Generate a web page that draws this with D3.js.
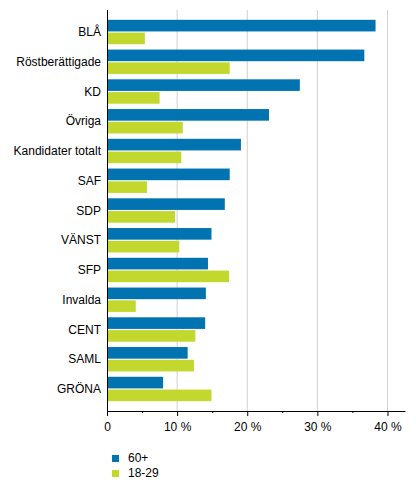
<!DOCTYPE html>
<html>
<head>
<meta charset="utf-8">
<style>
  body { margin: 0; background: #fff; }
  text { font-family: "Liberation Sans", Arial, sans-serif; fill: #000; }
</style>
</head>
<body>
<script src="https://cdn.jsdelivr.net/npm/d3@7"></script>
<script>
// data (share in %)
var categories = ["BLÅ", "Röstberättigade", "KD", "Övriga", "Kandidater totalt", "SAF",
                  "SDP", "VÄNST", "SFP", "Invalda", "CENT", "SAML", "GRÖNA"];
var seriesNames = ["60+", "18-29"];
var values60 = [38.3, 36.7, 27.5, 23.1, 19.1, 17.5, 16.8, 14.9, 14.4, 14.1, 14.0, 11.5, 8.0];
var values1829 = [5.4, 17.5, 7.5, 10.8, 10.6, 5.7, 9.7, 10.3, 17.4, 4.1, 12.6, 12.4, 14.9];
var tickValues = [0, 10, 20, 30, 40];
var colors = ["#0073b0", "#c3d82e"];

var width = 416, height = 491;
var margin = {left: 107, right: 405, top: 10, bottom: 411};

var svg = d3.select("body").append("svg")
    .attr("width", width)
    .attr("height", height);

var x = d3.scaleLinear().domain([0, 42.5]).range([margin.left, margin.right]);

var y = d3.scaleBand()
    .domain(categories)
    .range([margin.top, margin.bottom])
    .paddingInner(0.18)
    .paddingOuter(0.33);

var sub = d3.scaleBand()
    .domain(seriesNames)
    .range([0, y.bandwidth()])
    .paddingInner(0.09);

// grid lines
svg.append("g")
  .selectAll("line")
  .data(tickValues.slice(1))
  .enter().append("line")
    .attr("x1", d => x(d)).attr("x2", d => x(d))
    .attr("y1", margin.top).attr("y2", margin.bottom)
    .attr("stroke", "#d0d0d0")
    .attr("stroke-width", 1);

// bars
var rows = categories.map((c, i) => ({cat: c, vals: [values60[i], values1829[i]]}));
var groups = svg.append("g").selectAll("g")
  .data(rows)
  .enter().append("g")
    .attr("transform", d => `translate(0,${y(d.cat)})`);

groups.selectAll("rect")
  .data(d => d.vals.map((v, j) => ({name: seriesNames[j], v: v, j: j})))
  .enter().append("rect")
    .attr("x", x(0))
    .attr("y", d => sub(d.name))
    .attr("width", d => x(d.v) - x(0))
    .attr("height", sub.bandwidth())
    .attr("fill", d => colors[d.j]);

// category labels
svg.append("g")
  .selectAll("text")
  .data(categories)
  .enter().append("text")
    .attr("x", margin.left - 6)
    .attr("y", d => y(d) + y.bandwidth() / 2)
    .attr("dy", "0.35em")
    .attr("text-anchor", "end")
    .style("font-size", "12px")
    .text(d => d);

// y axis line
svg.append("line")
    .attr("x1", margin.left + 0.5).attr("x2", margin.left + 0.5)
    .attr("y1", margin.top).attr("y2", margin.bottom)
    .attr("stroke", "#000");

// x axis: minor ticks every 5, labels every 10
var xAxis = d3.axisBottom(x)
    .tickValues(d3.range(0, 41, 5))
    .tickSize(5)
    .tickSizeOuter(0)
    .tickFormat(d => d % 10 ? "" : (d === 0 ? "0" : d + " %"));

var gx = svg.append("g")
    .attr("transform", `translate(0,${margin.bottom})`)
    .call(xAxis);
gx.select(".domain").attr("stroke", "#000");
gx.selectAll(".tick line").attr("y2", d => d % 10 ? 2 : 5);
gx.selectAll(".tick text")
    .attr("y", 11)
    .style("font-size", "12px")
    .style("font-family", "'Liberation Sans', Arial, sans-serif")
    .attr("fill", "#000");

// legend
var legend = svg.append("g")
  .selectAll("g")
  .data(seriesNames)
  .enter().append("g")
    .attr("transform", (d, i) => `translate(112,${455 + i * 15})`);
legend.append("rect")
    .attr("width", 7).attr("height", 7)
    .attr("fill", (d, i) => colors[i]);
legend.append("text")
    .attr("x", 16)
    .attr("y", 7)
    .style("font-size", "12px")
    .text(d => d);
</script>
</body>
</html>
